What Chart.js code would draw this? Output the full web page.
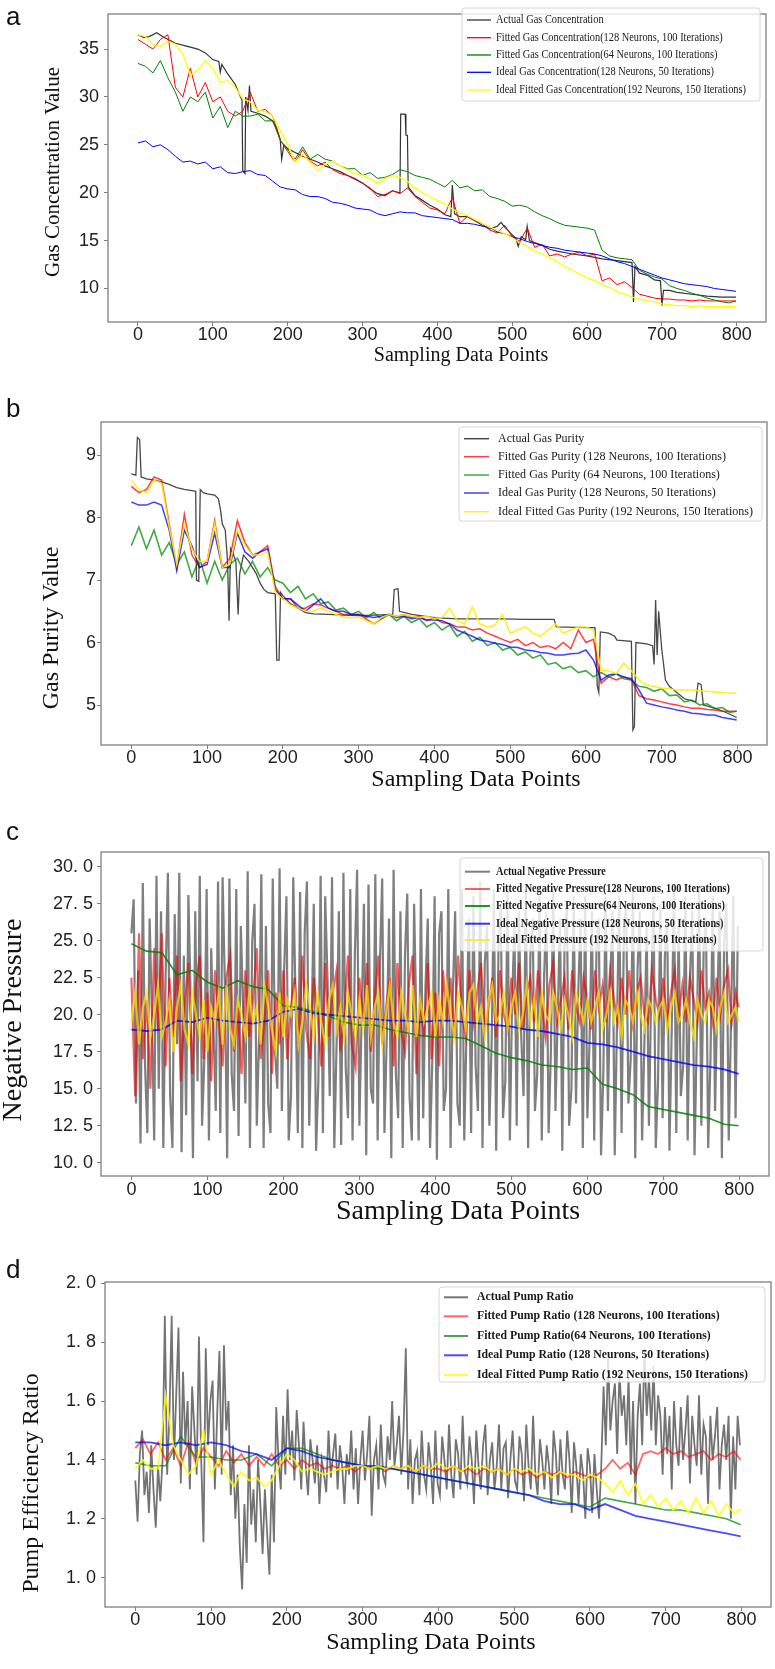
<!DOCTYPE html>
<html>
<head>
<meta charset="utf-8">
<script src="https://cdn.jsdelivr.net/npm/chart.js@4.4.1/dist/chart.umd.min.js"></script>
<style>
  html, body { margin: 0; padding: 0; background: #fff; }
  #page { position: relative; width: 775px; height: 1669px; overflow: hidden; }
  canvas { position: absolute; left: 0; }
</style>
</head>
<body>
<div id="page">
  <canvas id="chartA" width="775" height="370" style="top:0px"></canvas>
  <canvas id="chartB" width="775" height="420" style="top:380px"></canvas>
  <canvas id="chartC" width="775" height="420" style="top:820px"></canvas>
  <canvas id="chartD" width="775" height="419" style="top:1250px"></canvas>
</div>
<script>
// sampling positions
const X3 = [0,3,6,9,12,15,18,21,24,27,30,33,36,39,42,45,48,51,54,57,60,63,66,69,72,75,78,81,84,87,90,93,96,99,102,105,108,111,114,117,120,123,126,129,132,135,138,141,144,147,150,153,156,159,162,165,168,171,174,177,180,183,186,189,192,195,198,201,204,207,210,213,216,219,222,225,228,231,234,237,240,243,246,249,252,255,258,261,264,267,270,273,276,279,282,285,288,291,294,297,300,303,306,309,312,315,318,321,324,327,330,333,336,339,342,345,348,351,354,357,360,363,366,369,372,375,378,381,384,387,390,393,396,399,402,405,408,411,414,417,420,423,426,429,432,435,438,441,444,447,450,453,456,459,462,465,468,471,474,477,480,483,486,489,492,495,498,501,504,507,510,513,516,519,522,525,528,531,534,537,540,543,546,549,552,555,558,561,564,567,570,573,576,579,582,585,588,591,594,597,600,603,606,609,612,615,618,621,624,627,630,633,636,639,642,645,648,651,654,657,660,663,666,669,672,675,678,681,684,687,690,693,696,699,702,705,708,711,714,717,720,723,726,729,732,735,738,741,744,747,750,753,756,759,762,765,768,771,774,777,780,783,786,789,792,795,798];
const X5 = [0,5,10,15,20,25,30,35,40,45,50,55,60,65,70,75,80,85,90,95,100,105,110,115,120,125,130,135,140,145,150,155,160,165,170,175,180,185,190,195,200,205,210,215,220,225,230,235,240,245,250,255,260,265,270,275,280,285,290,295,300,305,310,315,320,325,330,335,340,345,350,355,360,365,370,375,380,385,390,395,400,405,410,415,420,425,430,435,440,445,450,455,460,465,470,475,480,485,490,495,500,505,510,515,520,525,530,535,540,545,550,555,560,565,570,575,580,585,590,595,600,605,610,615,620,625,630,635,640,645,650,655,660,665,670,675,680,685,690,695,700,705,710,715,720,725,730,735,740,745,750,755,760,765,770,775,780,785,790,795,799];
const X10 = [0,10,20,30,40,50,60,70,80,90,100,110,120,130,140,150,160,170,180,190,200,210,220,230,240,250,260,270,280,290,300,310,320,330,340,350,360,370,380,390,400,410,420,430,440,450,460,470,480,490,500,510,520,530,540,550,560,570,580,590,600,610,620,630,640,650,660,670,680,690,700,710,720,730,740,750,760,770,780,790,799];
const X20 = [0,20,40,60,80,100,120,140,160,180,200,220,240,260,280,300,320,340,360,380,400,420,440,460,480,500,520,540,560,580,600,620,640,660,680,700,720,740,760,780,799];
const X_TICKS = [0,100,200,300,400,500,600,700,800];

// ---- a: gas concentration ----
const A_Y_TICKS = [10,15,20,25,30,35];
const A_LABELS = ['Actual Gas Concentration','Fitted Gas Concentration(128 Neurons, 100 Iterations)','Fitted Gas Concentration(64 Neurons, 100 Iterations)','Ideal Gas Concentration(128 Neurons, 50 Iterations)','Ideal Fitted Gas Concentration(192 Neurons, 150 Iterations)'];
const A_ACTUAL_X = [0,8,15,25,35,50,65,80,90,100,108,110,112,120,130,137,139,140,143,144,147,149,151,160,170,180,185,190,192,195,200,210,220,230,240,250,260,270,280,290,300,310,320,330,340,350,351,357,358,360,361,370,380,390,400,410,418,420,423,430,440,450,460,470,480,485,490,500,505,508,512,518,520,523,530,540,550,560,580,600,620,640,660,662,664,670,680,690,698,700,702,710,720,740,760,780,799];
const A_ACTUAL = [36.5,36.2,36.3,36.7,36.2,35.6,35.3,35.0,34.6,33.9,33.7,32.6,33.4,32.4,31.3,30.0,29.7,22.3,22.0,30.0,28.6,31.2,28.5,28.3,28.0,27.5,26.8,25.6,23.5,25.0,24.6,24.2,23.8,23.5,23.2,22.8,22.5,22.2,21.8,21.4,21.0,20.4,19.9,19.7,20.2,20.0,28.2,28.2,26.0,26.0,20.6,19.7,19.2,18.7,18.3,17.7,17.5,20.8,17.8,17.5,17.5,17.1,16.6,16.2,16.5,16.9,16.4,15.6,15.2,14.4,15.4,15.1,16.5,15.0,14.8,14.5,14.1,13.9,13.6,13.4,13.1,12.9,12.7,8.6,12.3,11.6,11.4,10.9,10.8,8.2,9.8,9.8,9.6,9.4,9.2,9.1,9.1];
const A_FIT128 = [36.0,35.5,35.0,36.0,36.5,31.0,30.0,33.0,30.0,31.5,
  29.5,30.0,28.5,28.0,28.5,30.5,28.5,28.7,28.0,25.5,
  24.3,23.2,24.5,23.3,22.8,23.2,22.4,22.0,21.8,21.5,
  21.0,20.5,19.6,19.8,20.2,19.9,20.5,19.6,19.0,18.4,
  18.2,17.8,19.5,16.8,17.5,17.1,16.8,16.1,15.8,16.6,
  15.4,14.9,16.3,14.3,14.6,13.4,13.6,13.3,13.6,13.8,
  13.4,13.6,10.8,11.1,10.4,10.7,10.1,9.4,9.2,9.0,
  8.9,8.9,8.8,8.8,8.7,8.8,8.7,8.7,8.7,8.7,8.7];
const A_FIT64 = [33.5,33.2,32.5,33.8,32.0,30.5,28.5,30.0,29.5,30.5,
  27.8,29.0,26.8,28.5,28.0,28.0,28.2,27.5,27.5,25.5,
  24.5,23.5,24.8,23.5,24.0,23.5,23.3,22.8,22.5,22.5,
  21.8,22.1,21.5,21.6,21.9,22.4,22.2,21.8,21.6,21.4,
  21.0,20.6,21.3,20.5,20.7,20.2,20.3,19.6,19.4,19.1,
  18.6,18.7,18.5,18.0,17.6,17.3,16.9,16.6,16.5,16.4,
  16.3,16.1,14.0,13.4,13.2,13.1,13.0,11.9,11.5,11.2,
  11.0,10.3,10.0,9.8,9.5,9.3,9.0,8.8,8.6,8.5,8.7];
const A_IDEAL128 = [25.2,25.4,24.8,25.0,24.5,23.8,23.2,23.3,23.0,23.2,
  22.5,22.7,22.1,22.0,22.2,22.3,21.9,21.8,21.2,20.6,
  20.4,20.3,19.8,19.6,19.6,19.4,19.0,18.9,18.7,18.4,
  18.3,18.2,17.8,17.6,17.8,18.0,17.9,17.9,17.6,17.5,
  17.4,17.3,17.2,16.8,16.8,16.7,16.5,16.4,15.9,15.7,
  15.4,15.2,14.9,14.7,14.5,14.3,14.2,14.0,13.9,13.8,
  13.7,13.6,13.4,13.1,12.8,12.6,12.3,12.0,11.7,11.4,
  11.1,10.9,10.7,10.5,10.4,10.3,10.2,10.0,9.9,9.8,9.7];
const A_IDEAL192 = [36.5,36.3,35.5,35.3,35.8,35.5,34.5,32.3,32.8,33.8,
  33.0,31.5,31.7,31.0,29.8,29.5,28.6,28.5,28.0,26.5,
  25.0,23.2,24.0,23.2,22.3,23.0,23.3,22.8,22.4,22.0,
  21.8,21.5,21.0,21.5,21.8,21.6,21.2,20.5,20.0,19.6,
  19.2,18.8,18.3,17.9,17.6,17.2,16.8,16.4,16.1,15.7,
  15.3,14.8,14.4,13.9,13.6,13.2,12.8,12.3,11.9,11.5,
  11.1,10.8,10.4,10.1,9.7,9.4,9.1,8.9,8.7,8.6,
  8.4,8.3,8.2,8.2,8.1,8.2,8.1,8.1,8.1,8.1,8.1];

// ---- b: gas purity ----
const B_Y_TICKS = [5,6,7,8,9];
const B_LABELS = ['Actual Gas Purity','Fitted Gas Purity (128 Neurons, 100 Iterations)','Fitted Gas Purity (64 Neurons, 100 Iterations)','Ideal Gas Purity (128 Neurons, 50 Iterations)','Ideal Fitted Gas Purity (192 Neurons, 150 Iterations)'];
const B_ACTUAL_X = [0,6,8,11,13,20,30,40,50,60,70,80,85,86,89,91,95,100,110,115,118,120,124,127,129,131,135,138,141,143,148,155,160,165,170,175,180,190,192,195,197,200,210,220,230,240,260,280,300,320,345,347,352,354,370,400,430,460,490,520,558,561,600,612,615,617,619,630,638,641,660,662,664,666,680,688,690,692,694,696,700,705,710,720,730,745,748,752,755,770,785,799];
const B_ACTUAL = [8.70,8.68,9.28,9.25,8.65,8.62,8.60,8.57,8.53,8.48,8.45,8.43,8.42,7.0,6.98,8.45,8.40,8.38,8.36,8.30,8.1,7.9,7.8,7.3,6.35,7.5,7.4,7.3,6.45,7.1,7.4,7.3,7.2,7.1,6.95,6.85,6.8,6.78,5.72,5.72,6.8,6.75,6.62,6.55,6.48,6.46,6.45,6.44,6.43,6.44,6.45,6.85,6.86,6.5,6.45,6.4,6.38,6.38,6.38,6.37,6.37,6.25,6.24,6.24,5.3,5.2,6.17,6.15,6.1,6.04,6.02,4.6,4.65,6.0,5.98,5.95,5.65,6.68,5.8,6.5,5.9,5.4,5.3,5.2,5.1,5.05,5.35,5.33,5.0,4.95,4.88,4.8];
const B_FIT128 = [8.50,8.40,8.45,8.65,8.60,7.90,7.20,8.05,7.40,7.20,
  7.30,7.95,7.20,7.35,7.95,7.60,7.40,7.45,7.55,6.90,
  6.70,6.70,6.55,6.55,6.62,6.60,6.55,6.50,6.45,6.45,
  6.45,6.38,6.30,6.38,6.45,6.42,6.45,6.40,6.42,6.35,
  6.40,6.32,6.30,6.25,6.25,6.20,6.22,6.15,6.10,6.05,
  6.00,6.05,5.95,6.00,5.92,5.95,5.90,6.00,5.90,6.20,
  6.00,6.05,5.35,5.45,5.40,5.45,5.40,5.15,5.10,5.08,
  5.05,5.02,5.00,4.97,4.95,4.95,4.93,4.92,4.90,4.90,4.90];
const B_FIT64 = [7.55,7.85,7.50,7.80,7.40,7.60,7.25,7.45,7.05,7.35,
  6.95,7.30,7.00,7.25,7.35,7.10,7.30,7.05,7.20,7.00,
  6.95,6.80,6.90,6.70,6.78,6.62,6.65,6.52,6.55,6.45,
  6.50,6.40,6.48,6.38,6.45,6.35,6.42,6.32,6.38,6.25,
  6.32,6.20,6.28,6.10,6.18,6.02,6.08,5.95,6.00,5.88,
  5.92,5.80,5.85,5.75,5.80,5.65,5.68,5.58,5.62,5.52,
  5.55,5.45,5.52,5.45,5.50,5.42,5.40,5.30,5.28,5.22,
  5.26,5.15,5.16,5.05,5.08,5.00,5.02,4.94,4.96,4.88,4.90];
const B_IDEAL128 = [8.25,8.20,8.20,8.25,8.20,7.80,7.15,7.80,7.55,7.20,
  7.25,7.75,7.20,7.20,7.75,7.45,7.35,7.45,7.50,6.85,
  6.70,6.70,6.60,6.50,6.60,6.70,6.55,6.50,6.50,6.45,
  6.45,6.42,6.40,6.42,6.45,6.40,6.42,6.38,6.40,6.36,
  6.36,6.35,6.30,6.20,6.15,6.10,6.04,6.02,5.99,5.97,
  5.93,5.92,5.88,5.87,5.84,5.83,5.80,5.80,5.82,5.83,
  5.88,5.72,5.40,5.48,5.50,5.45,5.42,5.24,5.03,5.00,
  4.97,4.95,4.92,4.90,4.87,4.86,4.84,4.84,4.80,4.78,4.76];
const B_IDEAL192 = [8.60,8.45,8.40,8.60,8.55,7.85,7.25,7.90,7.50,7.30,
  7.30,7.90,7.20,7.25,7.80,7.55,7.40,7.40,7.45,6.80,
  6.70,6.60,6.55,6.50,6.50,6.55,6.50,6.45,6.40,6.40,
  6.40,6.35,6.30,6.40,6.45,6.42,6.45,6.42,6.40,6.42,
  6.38,6.40,6.55,6.35,6.30,6.57,6.30,6.25,6.28,6.45,
  6.15,6.20,6.25,6.15,6.10,6.20,6.30,6.15,6.20,6.25,
  6.25,6.20,5.56,5.55,5.50,5.67,5.55,5.40,5.32,5.30,
  5.27,5.26,5.24,5.24,5.24,5.23,5.22,5.21,5.20,5.19,5.19];

// ---- c: negative pressure ----
const C_Y_TICKS = [10,12.5,15,17.5,20,22.5,25,27.5,30];
const C_Y_TEXT = ['10. 0','12. 5','15. 0','17. 5','20. 0','22. 5','25. 0','27. 5','30. 0'];
const C_LABELS = ['Actual Negative Pressure','Fitted Negative Pressure(128 Neurons, 100 Iterations)','Fitted Negative Pressure(64 Neurons, 100 Iterations)','Ideal Negative Pressure (128 Neurons, 50 Iterations)','Ideal Fitted Pressure (192 Neurons, 150 Iterations)'];
const C_ACTUAL = [25.5,27.8,14.0,23.0,11.3,28.9,16.5,12.0,26.5,20.0,11.5,29.4,15.0,27.0,11.0,22.5,29.6,14.5,11.0,26.8,
  18.0,29.6,10.7,24.0,13.2,28.1,21.0,10.3,27.0,15.5,29.4,12.5,17.0,28.5,11.5,24.5,19.0,13.5,29.0,12.0,
  29.3,22.0,10.3,29.2,16.0,13.5,28.5,11.8,26.0,20.5,14.0,29.7,11.0,25.0,27.5,12.5,18.5,29.5,11.0,26.0,
  14.0,12.0,29.2,17.5,15.0,29.9,13.5,23.0,28.0,11.5,14.5,29.3,21.0,12.0,28.3,11.0,25.5,29.0,12.5,19.0,
  27.5,10.8,15.5,29.4,12.0,28.0,22.5,14.5,29.3,11.0,18.0,27.0,11.2,29.6,16.5,13.0,28.5,11.5,24.0,29.8,
  12.5,20.0,27.5,10.5,28.8,15.0,14.0,29.5,11.5,23.5,29.2,12.0,18.5,26.5,10.3,29.8,16.0,13.0,27.0,11.0,
  24.0,28.2,14.5,11.5,27.5,19.5,11.5,28.5,13.0,22.0,26.5,11.0,17.0,28.0,10.2,25.5,27.0,13.5,15.0,28.5,
  11.0,21.5,27.0,14.0,12.5,28.5,11.5,19.0,26.5,12.0,28.0,16.5,13.5,29.0,11.0,23.5,26.0,12.5,18.0,28.5,
  10.8,24.5,27.5,13.0,15.5,28.5,11.5,21.0,26.0,12.5,27.0,18.5,14.5,28.5,11.0,24.0,26.5,13.5,16.0,28.0,
  11.5,22.5,27.0,12.0,17.5,28.5,13.5,20.0,26.5,10.8,25.0,27.5,12.5,15.0,28.0,14.0,21.5,26.5,11.0,28.0,
  13.0,18.5,27.0,11.5,24.5,26.5,10.5,16.0,28.0,13.5,22.0,27.0,10.5,19.5,28.0,12.0,25.5,27.5,14.0,17.0,
  28.5,10.3,23.0,27.0,11.5,18.0,26.0,12.5,21.5,28.0,11.0,15.5,27.5,13.0,24.0,26.5,10.8,19.0,28.5,12.0,
  26.0,14.5,16.5,28.0,11.5,22.5,27.0,10.5,18.5,28.5,12.5,24.5,26.5,11.0,17.0,28.0,13.5,21.0,27.0,10.3,
  25.0,27.5,11.5,19.5,28.0,13.0,26.0];
const C_FIT128 = [22.5,14.5,25.5,17.0,21.0,15.0,24.5,19.0,25.5,16.5,22.5,18.5,24.0,15.5,20.5,23.5,16.0,22.0,24.0,17.0,
  21.5,15.5,23.0,19.5,16.5,22.5,24.0,17.5,20.5,16.0,23.0,18.5,21.0,24.5,17.0,19.5,23.0,16.0,21.5,18.0,
  23.0,17.0,20.5,22.5,18.0,24.0,19.0,17.0,22.5,20.0,16.5,23.5,18.5,21.5,23.0,17.5,20.0,24.0,18.0,16.5,
  22.5,19.5,23.5,17.5,21.0,24.0,18.0,20.5,22.5,16.5,23.5,19.0,17.5,22.0,24.0,16.0,21.0,18.5,23.5,17.0,
  21.5,16.5,23.0,19.5,22.5,18.5,24.0,20.0,18.5,23.0,19.5,21.5,23.5,19.0,20.5,22.5,18.5,23.0,20.0,19.0,
  22.5,20.0,23.5,19.0,21.5,22.5,19.5,23.0,20.5,18.5,22.0,23.5,19.5,21.0,22.5,19.0,23.0,20.5,19.5,22.5,
  21.0,19.0,23.0,20.5,22.0,19.5,23.0,21.0,19.5,22.5,20.0,23.0,19.5,21.5,22.5,20.0,19.5,23.0,21.0,20.0,
  22.5,19.5,21.5,23.0,20.0,22.0,19.5,22.5,21.0,19.5,23.0,20.5,21.5,19.5,22.5,20.0,22.0,23.0,19.5,21.5,
  20.5];
const C_FIT64 = [24.8,24.3,24.2,22.7,23.0,22.2,21.8,22.3,21.9,21.7,20.6,20.5,20.2,19.9,19.5,19.3,19.3,19.0,18.8,18.6,
  18.5,18.5,18.4,17.9,17.4,17.1,16.9,16.6,16.5,16.3,16.4,15.3,15.0,14.6,13.8,13.6,13.4,13.2,13.0,12.6,12.5];
const C_IDEAL128 = [19.0,18.9,19.0,19.6,19.5,19.8,19.6,19.5,19.4,19.6,20.2,20.4,20.1,20.0,19.9,19.8,19.7,19.6,19.6,19.5,
  19.6,19.6,19.5,19.4,19.3,19.2,19.0,18.9,18.7,18.5,18.1,18.0,17.8,17.5,17.2,17.0,16.8,16.6,16.5,16.3,16.0];
const C_IDEAL192 = [19.5,21.5,18.0,20.5,21.5,18.5,20.0,22.0,18.5,19.5,21.0,17.5,20.5,22.0,19.0,18.0,21.5,20.0,18.5,21.0,
  17.5,20.5,19.5,21.5,18.0,22.0,19.0,18.0,21.0,20.0,18.5,21.5,19.5,20.5,18.0,22.0,20.5,19.0,17.5,21.5,
  18.5,21.0,20.0,21.5,18.0,19.5,22.0,20.5,18.5,21.5,19.5,18.0,21.0,22.0,19.0,20.5,18.5,21.5,20.0,18.5,
  21.0,19.0,22.0,18.5,20.5,21.5,18.0,20.0,22.0,19.5,18.5,21.5,20.0,19.0,22.0,18.5,21.0,19.5,20.5,21.5,
  18.5,21.0,19.5,22.0,20.0,18.5,21.5,20.5,19.0,21.5,22.0,19.5,20.5,18.5,21.0,22.0,19.5,20.0,21.5,19.0,
  20.5,21.5,19.0,20.0,22.0,19.5,21.0,18.5,21.5,20.0,19.5,21.5,20.5,19.0,21.0,20.0,18.5,21.5,20.5,19.5,
  21.0,19.5,20.5,21.5,19.0,20.0,21.5,19.5,20.5,18.5,21.0,20.5,19.5,21.5,20.0,19.0,21.0,20.5,19.5,20.5,
  21.0,19.0,20.5,21.5,19.5,20.0,21.0,19.5,18.5,21.0,20.0,19.5,21.0,20.5,19.0,20.5,21.5,19.5,20.0,20.5,
  19.5];

// ---- d: pump efficiency ----
const D_Y_TICKS = [1.0,1.2,1.4,1.6,1.8,2.0];
const D_Y_TEXT = ['1. 0','1. 2','1. 4','1. 6','1. 8','2. 0'];
const D_LABELS = ['Actual Pump Ratio','Fitted Pump Ratio (128 Neurons, 100 Iterations)','Fitted Pump Ratio(64 Neurons, 100 Iterations)','Ideal Pump Ratio (128 Neurons, 50 Iterations)','Ideal Fitted Pump Ratio (192 Neurons, 150 Iterations)'];
const D_ACTUAL = [1.33,1.19,1.42,1.50,1.28,1.36,1.22,1.45,1.30,1.17,1.38,1.26,1.40,1.89,1.35,1.55,1.89,1.40,1.62,1.85,
  1.32,1.70,1.45,1.60,1.30,1.65,1.50,1.35,1.82,1.40,1.12,1.78,1.45,1.60,1.67,1.30,1.55,1.77,1.35,1.79,
  1.50,1.60,1.28,1.45,1.20,1.35,1.10,0.96,1.25,1.05,1.45,1.18,1.30,1.12,1.40,1.25,1.08,1.30,1.15,1.01,
  1.35,1.12,1.58,1.40,1.30,1.55,1.35,1.64,1.40,1.50,1.33,1.57,1.45,1.30,1.53,1.38,1.28,1.47,1.40,1.32,
  1.45,1.25,1.40,1.35,1.29,1.50,1.34,1.42,1.49,1.30,1.45,1.38,1.25,1.42,1.35,1.50,1.30,1.44,1.25,1.40,
  1.50,1.33,1.42,1.55,1.21,1.40,1.45,1.30,1.52,1.35,1.32,1.48,1.40,1.60,1.38,1.45,1.55,1.35,1.50,1.78,
  1.30,1.47,1.25,1.40,1.43,1.28,1.50,1.35,1.30,1.46,1.38,1.25,1.50,1.32,1.28,1.48,1.40,1.30,1.52,1.35,
  1.27,1.47,1.42,1.30,1.55,1.36,1.32,1.48,1.40,1.25,1.50,1.38,1.30,1.45,1.52,1.28,1.40,1.46,1.30,1.38,
  1.52,1.30,1.44,1.46,1.27,1.40,1.50,1.33,1.30,1.48,1.42,1.26,1.52,1.38,1.30,1.55,1.35,1.28,1.47,1.40,
  1.30,1.45,1.38,1.25,1.50,1.42,1.28,1.47,1.35,1.30,1.50,1.40,1.22,1.46,1.38,1.25,1.42,1.35,1.20,1.44,
  1.38,1.22,1.42,1.30,1.20,1.38,1.65,1.45,1.75,1.50,1.60,1.66,1.42,1.70,1.55,1.62,1.45,1.68,1.35,1.60,
  1.25,1.55,1.66,1.45,1.78,1.55,1.68,1.50,1.72,1.45,1.62,1.55,1.35,1.58,1.42,1.55,1.30,1.60,1.45,1.38,
  1.58,1.40,1.50,1.62,1.32,1.55,1.45,1.38,1.62,1.35,1.52,1.48,1.25,1.55,1.40,1.48,1.58,1.30,1.45,1.52,
  1.40,1.55,1.20,1.48,1.30,1.55,1.45];
const D_FIT128 = [1.44,1.47,1.42,1.46,1.40,1.44,1.38,1.46,1.39,1.44,
  1.41,1.38,1.43,1.39,1.42,1.38,1.41,1.38,1.42,1.38,
  1.40,1.37,1.40,1.38,1.39,1.37,1.38,1.37,1.38,1.36,
  1.38,1.37,1.38,1.36,1.38,1.37,1.38,1.36,1.38,1.37,
  1.37,1.36,1.38,1.36,1.37,1.35,1.37,1.36,1.37,1.35,
  1.37,1.35,1.36,1.34,1.36,1.35,1.36,1.34,1.36,1.35,
  1.34,1.35,1.37,1.40,1.37,1.39,1.35,1.42,1.43,1.42,
  1.44,1.42,1.43,1.41,1.42,1.43,1.40,1.42,1.41,1.43,1.40];
const D_FIT64 = [1.39,1.38,1.38,1.48,1.41,1.41,1.40,1.40,1.42,1.38,1.44,1.44,1.42,1.40,1.39,1.38,1.37,1.37,1.36,1.35,
  1.34,1.33,1.32,1.31,1.30,1.29,1.28,1.27,1.26,1.25,1.24,1.27,1.26,1.25,1.24,1.23,1.23,1.22,1.21,1.20,1.18];
const D_IDEAL128 = [1.46,1.46,1.45,1.46,1.45,1.46,1.45,1.43,1.42,1.40,1.44,1.43,1.41,1.40,1.39,1.38,1.38,1.37,1.36,1.35,
  1.34,1.33,1.32,1.31,1.30,1.29,1.28,1.26,1.25,1.25,1.23,1.25,1.23,1.21,1.20,1.19,1.18,1.17,1.16,1.15,1.14];
const D_IDEAL192 = [1.37,1.40,1.37,1.37,1.62,1.45,1.40,1.35,1.38,1.50,
  1.35,1.40,1.35,1.31,1.36,1.33,1.34,1.31,1.33,1.38,
  1.42,1.40,1.36,1.37,1.36,1.35,1.36,1.37,1.37,1.38,
  1.38,1.37,1.38,1.37,1.38,1.37,1.38,1.36,1.38,1.37,
  1.39,1.37,1.38,1.36,1.38,1.37,1.38,1.36,1.37,1.35,
  1.37,1.36,1.37,1.35,1.36,1.34,1.36,1.35,1.35,1.33,
  1.35,1.34,1.32,1.29,1.33,1.28,1.32,1.25,1.28,1.24,
  1.27,1.23,1.26,1.22,1.27,1.22,1.26,1.21,1.25,1.22,1.23];

const SANS = "'Liberation Sans', Arial, sans-serif";
const SERIF = "'Liberation Serif', 'Times New Roman', serif";

function pts(xs, ys) {
  return ys.map((y, i) => ({ x: xs[i], y }));
}

// frame, panel letter, axis titles and the in-plot legend
const decor = {
  id: 'decor',
  afterDatasetsDraw(chart) {
    const { ctx, chartArea: a } = chart;
    ctx.save();
    ctx.strokeStyle = '#7f7f7f';
    ctx.lineWidth = 1.3;
    ctx.strokeRect(a.left, a.top, a.right - a.left, a.bottom - a.top);
    ctx.restore();
  },
  afterDraw(chart, args, o) {
    const ctx = chart.ctx;
    ctx.save();
    ctx.fillStyle = '#111';
    ctx.font = '26px ' + SANS;
    ctx.textAlign = 'left';
    ctx.textBaseline = 'alphabetic';
    ctx.fillText(o.tag, o.tagAt[0], o.tagAt[1]);

    ctx.textAlign = 'center';
    ctx.textBaseline = 'middle';
    ctx.font = o.xTitleSize + 'px ' + SERIF;
    ctx.fillText(o.xTitle, o.xTitleAt[0], o.xTitleAt[1]);
    ctx.save();
    ctx.translate(o.yTitleAt[0], o.yTitleAt[1]);
    ctx.rotate(-Math.PI / 2);
    ctx.font = o.yTitleSize + 'px ' + SERIF;
    ctx.fillText(o.yTitle, 0, 0);
    ctx.restore();

    // legend box
    const lg = o.legend;
    const [x0, y0, x1, y1] = lg.box;
    ctx.fillStyle = 'rgba(255,255,255,0.8)';
    ctx.strokeStyle = '#d6d6d6';
    ctx.lineWidth = 1;
    ctx.beginPath();
    if (ctx.roundRect) ctx.roundRect(x0, y0, x1 - x0, y1 - y0, 3); else ctx.rect(x0, y0, x1 - x0, y1 - y0);
    ctx.fill();
    ctx.stroke();
    ctx.font = lg.font;
    const widest = Math.max(...lg.labels.map(t => ctx.measureText(t).width));
    const sx = Math.min(1, lg.textW / widest);
    ctx.textAlign = 'left';
    lg.labels.forEach((t, i) => {
      const y = lg.rows[i];
      const ds = chart.data.datasets[i];
      ctx.strokeStyle = ds.borderColor;
      ctx.lineWidth = lg.lineW;
      ctx.beginPath();
      ctx.moveTo(lg.lineX[0], y);
      ctx.lineTo(lg.lineX[1], y);
      ctx.stroke();
      ctx.fillStyle = '#1a1a1a';
      ctx.save();
      ctx.translate(lg.textX, y);
      ctx.scale(sx, 1);
      ctx.fillText(t, 0, 0);
      ctx.restore();
    });
    ctx.restore();
  }
};

function makeChart(id, p) {
  const datasets = p.series.map((s, i) => ({
    label: p.labels[i],
    data: pts(s.x, s.y),
    borderColor: p.colors[i],
    borderWidth: p.widths[i],
    pointRadius: 0,
    tension: 0,
    fill: false,
    order: 4 - i
  }));
  const tickGrid = { display: true, drawOnChartArea: false, drawTicks: true, tickLength: 4, color: '#7f7f7f' };
  return new Chart(document.getElementById(id), {
    type: 'line',
    data: { datasets },
    options: {
      responsive: false,
      animation: false,
      events: [],
      layout: { padding: { left: 0, top: p.padTop, right: p.padRight, bottom: 0 } },
      plugins: {
        legend: { display: false },
        tooltip: { enabled: false },
        decor: p.decor
      },
      scales: {
        x: {
          type: 'linear', min: -40, max: 839,
          afterFit: s => { s.height = p.xH; },
          afterBuildTicks: s => { s.ticks = X_TICKS.map(v => ({ value: v })); },
          ticks: { font: { family: SANS, size: 18, lineHeight: 1 }, color: '#222', padding: p.xTickPad, maxRotation: 0 },
          grid: tickGrid,
          border: { display: false }
        },
        y: {
          min: p.yMin, max: p.yMax,
          afterFit: s => { s.width = p.yW; },
          afterBuildTicks: s => { s.ticks = p.yTicks.map(v => ({ value: v })); },
          ticks: {
            font: { family: SANS, size: 18, lineHeight: 1 }, color: '#222', padding: p.yTickPad,
            callback: v => p.yText ? p.yText[p.yTicks.indexOf(v)] : String(v)
          },
          grid: tickGrid,
          border: { display: false }
        }
      }
    },
    plugins: [decor]
  });
}

makeChart('chartA', {
  labels: A_LABELS,
  series: [
    { x: A_ACTUAL_X, y: A_ACTUAL }, { x: X10, y: A_FIT128 }, { x: X10, y: A_FIT64 },
    { x: X10, y: A_IDEAL128 }, { x: X10, y: A_IDEAL192 }
  ],
  colors: ['#333333', '#ff0000', '#008000', '#0000ff', '#ffff00'],
  widths: [1.2, 1, 1, 1, 1.3],
  padTop: 3, padRight: 9, yW: 108, xH: 48, xTickPad: 0, yTickPad: 5,
  yMin: 6.5, yMax: 38.66, yTicks: A_Y_TICKS,
  decor: {
    tag: 'a', tagAt: [6, 25],
    xTitle: 'Sampling Data Points', xTitleSize: 20, xTitleAt: [461, 356],
    yTitle: 'Gas Concentration Value', yTitleSize: 21, yTitleAt: [53, 172],
    legend: { labels: A_LABELS, box: [462, 8, 760, 101], rows: [20, 37.7, 55, 72.3, 90],
      lineX: [467, 491], textX: 496, textW: 250, font: '12px ' + SERIF, lineW: 1.3 }
  }
});

makeChart('chartB', {
  labels: B_LABELS,
  series: [
    { x: B_ACTUAL_X, y: B_ACTUAL }, { x: X10, y: B_FIT128 }, { x: X10, y: B_FIT64 },
    { x: X10, y: B_IDEAL128 }, { x: X10, y: B_IDEAL192 }
  ],
  colors: ['rgba(40,40,40,0.85)', 'rgba(255,0,0,0.75)', 'rgba(0,140,0,0.75)', 'rgba(0,0,255,0.75)', 'rgba(255,240,0,0.9)'],
  widths: [1.3, 1.5, 1.6, 1.5, 1.5],
  padTop: 42, padRight: 8, yW: 101, xH: 55, xTickPad: 0, yTickPad: 1,
  yMin: 4.36, yMax: 9.53, yTicks: B_Y_TICKS,
  decor: {
    tag: 'b', tagAt: [6, 37],
    xTitle: 'Sampling Data Points', xTitleSize: 24, xTitleAt: [476, 400],
    yTitle: 'Gas Purity Value', yTitleSize: 24, yTitleAt: [52, 248],
    legend: { labels: B_LABELS, box: [459, 47, 762, 141], rows: [58.7, 76.7, 95, 113, 131.7],
      lineX: [464, 489], textX: 498, textW: 255, font: '13px ' + SERIF, lineW: 1.5 }
  }
});

makeChart('chartC', {
  labels: C_LABELS,
  series: [
    { x: X3, y: C_ACTUAL }, { x: X5, y: C_FIT128 }, { x: X20, y: C_FIT64 },
    { x: X20, y: C_IDEAL128 }, { x: X5, y: C_IDEAL192 }
  ],
  colors: ['rgba(0,0,0,0.5)', 'rgba(230,0,0,0.6)', 'rgba(0,128,0,0.85)', 'rgba(0,0,255,0.8)', 'rgba(255,230,0,0.7)'],
  widths: [2.2, 2.2, 1.6, 1.8, 2.2],
  padTop: 32, padRight: 6, yW: 101, xH: 64, xTickPad: 1, yTickPad: 4,
  yMin: 9.1, yMax: 31.0, yTicks: C_Y_TICKS, yText: C_Y_TEXT,
  decor: {
    tag: 'c', tagAt: [6, 20],
    xTitle: 'Sampling Data Points', xTitleSize: 28, xTitleAt: [458, 392],
    yTitle: 'Negative Pressure', yTitleSize: 28, yTitleAt: [14, 200],
    legend: { labels: C_LABELS, box: [460, 38, 763, 131], rows: [51.7, 69, 86, 103.7, 120],
      lineX: [465, 490], textX: 496, textW: 234, font: 'bold 12px ' + SERIF, lineW: 2 }
  }
});

makeChart('chartD', {
  labels: D_LABELS,
  series: [
    { x: X3, y: D_ACTUAL }, { x: X10, y: D_FIT128 }, { x: X20, y: D_FIT64 },
    { x: X20, y: D_IDEAL128 }, { x: X10, y: D_IDEAL192 }
  ],
  colors: ['rgba(0,0,0,0.55)', 'rgba(255,0,0,0.6)', 'rgba(0,128,0,0.7)', 'rgba(0,0,255,0.7)', 'rgba(255,255,0,0.8)'],
  widths: [1.8, 1.8, 1.6, 1.8, 1.8],
  padTop: 32, padRight: 4, yW: 105, xH: 62, xTickPad: 0, yTickPad: 5,
  yMin: 0.9, yMax: 2.005, yTicks: D_Y_TICKS, yText: D_Y_TEXT,
  decor: {
    tag: 'd', tagAt: [6, 28],
    xTitle: 'Sampling Data Points', xTitleSize: 24, xTitleAt: [431, 393],
    yTitle: 'Pump Efficiency Ratio', yTitleSize: 24, yTitleAt: [32, 233],
    legend: { labels: D_LABELS, box: [439, 37, 765, 132], rows: [47.3, 66.3, 86, 105.3, 125],
      lineX: [444, 468], textX: 477, textW: 271, font: 'bold 12px ' + SERIF, lineW: 2 }
  }
});
</script>
</body>
</html>
